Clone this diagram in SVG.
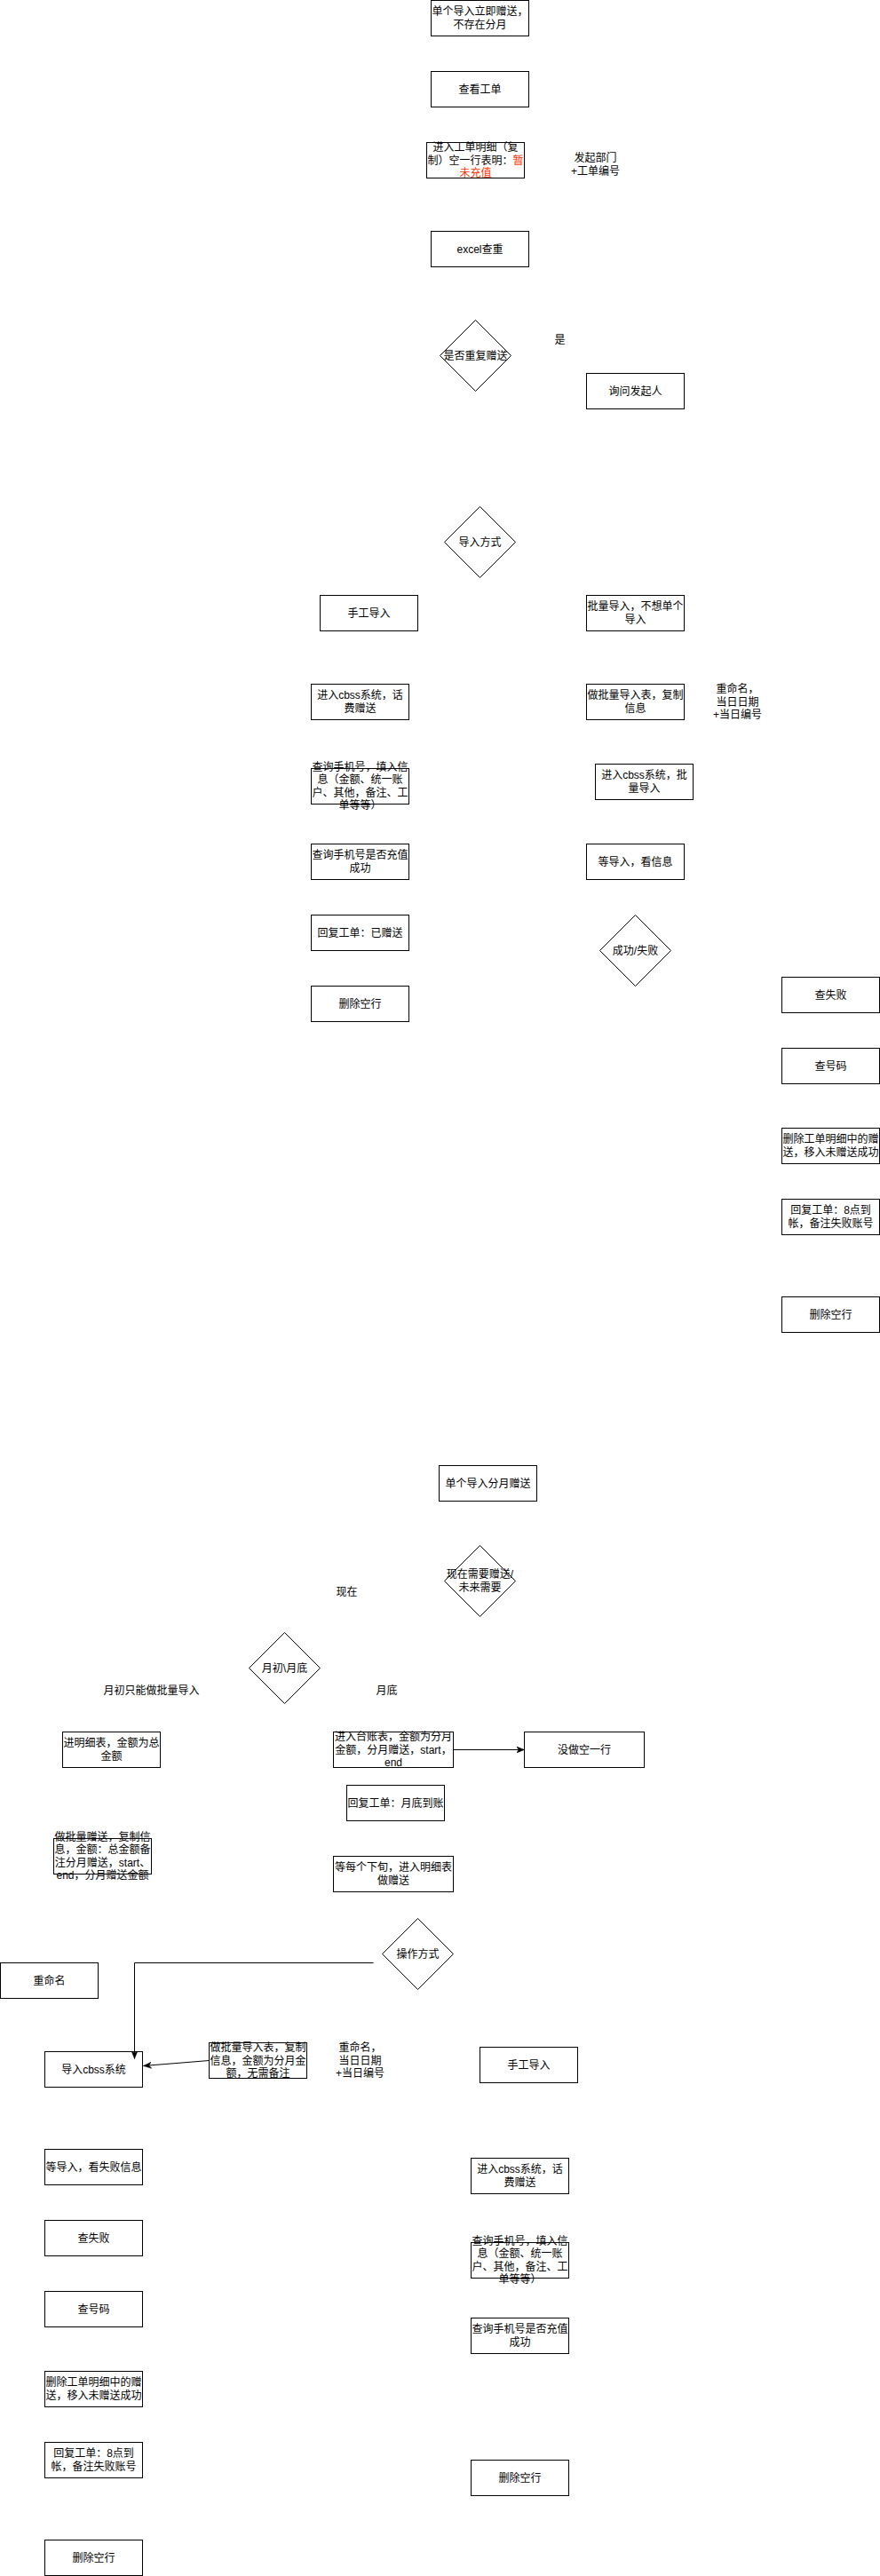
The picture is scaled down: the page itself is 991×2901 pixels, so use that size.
<svg xmlns="http://www.w3.org/2000/svg" width="991" height="2901" viewBox="0 0 991 2901">
<defs>
<style>
.n rect, .n polygon { fill: #ffffff; stroke: #000000; stroke-width: 1; }
text { font-family: "Liberation Sans", "Noto Sans CJK SC", sans-serif; font-size: 12px; text-anchor: middle; fill: #000000; }
.red { fill: #FF3300; }
.e { fill: none; stroke: #000000; stroke-width: 1; }
</style>
<marker id="arr" viewBox="0 0 10 10" refX="10" refY="5" markerWidth="9" markerHeight="9" markerUnits="userSpaceOnUse" orient="auto">
<path d="M0,1 L10,5 L0,9 L3,5 Z" fill="#000000" stroke="#000000" stroke-width="0.5"/>
</marker>
</defs>
<rect x="0" y="0" width="991" height="2901" fill="#ffffff"/>
<g transform="translate(0.5,0.5)">

<g id="n1" class="n"><rect x="485" y="0" width="110" height="40"/><text x="540" y="16.8">单个导入立即赠送，</text><text x="540" y="31.2">不存在分月</text></g>
<g id="n2" class="n"><rect x="485" y="80" width="110" height="40"/><text x="540" y="104">查看工单</text></g>
<g id="n3" class="n"><rect x="480" y="160" width="110" height="40"/><text x="535" y="169.6">进入工单明细（复</text><text x="535" y="184">制）空一行表明：<tspan class="red">暂</tspan></text><text x="535" y="198.4" class="red">未充值</text></g>
<g id="t1"><text x="670" y="181.8">发起部门</text><text x="670" y="196.2">+工单编号</text></g>
<g id="n4" class="n"><rect x="485" y="260" width="110" height="40"/><text x="540" y="284">excel查重</text></g>
<g id="d1" class="n"><polygon points="535,360 575,400 535,440 495,400"/><text x="535" y="404">是否重复赠送</text></g>
<g id="t2"><text x="630" y="386">是</text></g>
<g id="n5" class="n"><rect x="660" y="420" width="110" height="40"/><text x="715" y="444">询问发起人</text></g>
<g id="d2" class="n"><polygon points="540,570 580,610 540,650 500,610"/><text x="540" y="614">导入方式</text></g>
<g id="n6" class="n"><rect x="360" y="670" width="110" height="40"/><text x="415" y="694">手工导入</text></g>
<g id="n7" class="n"><rect x="660" y="670" width="110" height="40"/><text x="715" y="686.8">批量导入，不想单个</text><text x="715" y="701.2">导入</text></g>
<g id="n8" class="n"><rect x="350" y="770" width="110" height="40"/><text x="405" y="786.8">进入cbss系统，话</text><text x="405" y="801.2">费赠送</text></g>
<g id="n9" class="n"><rect x="660" y="770" width="110" height="40"/><text x="715" y="786.8">做批量导入表，复制</text><text x="715" y="801.2">信息</text></g>
<g id="t3"><text x="830" y="779.6">重命名，</text><text x="830" y="794">当日日期</text><text x="830" y="808.4">+当日编号</text></g>
<g id="n10" class="n"><rect x="350" y="865" width="110" height="40"/><text x="405" y="867.4">查询手机号，填入信</text><text x="405" y="881.8">息（金额、统一账</text><text x="405" y="896.2">户、其他，备注、工</text><text x="405" y="910.6">单等等）</text></g>
<g id="n11" class="n"><rect x="670" y="860" width="110" height="40"/><text x="725" y="876.8">进入cbss系统，批</text><text x="725" y="891.2">量导入</text></g>
<g id="n12" class="n"><rect x="350" y="950" width="110" height="40"/><text x="405" y="966.8">查询手机号是否充值</text><text x="405" y="981.2">成功</text></g>
<g id="n13" class="n"><rect x="660" y="950" width="110" height="40"/><text x="715" y="974">等导入，看信息</text></g>
<g id="n14" class="n"><rect x="350" y="1030" width="110" height="40"/><text x="405" y="1054">回复工单：已赠送</text></g>
<g id="d3" class="n"><polygon points="715,1030 755,1070 715,1110 675,1070"/><text x="715" y="1074">成功/失败</text></g>
<g id="n15" class="n"><rect x="350" y="1110" width="110" height="40"/><text x="405" y="1134">删除空行</text></g>
<g id="n16" class="n"><rect x="880" y="1100" width="110" height="40"/><text x="935" y="1124">查失败</text></g>
<g id="n17" class="n"><rect x="880" y="1180" width="110" height="40"/><text x="935" y="1204">查号码</text></g>
<g id="n18" class="n"><rect x="880" y="1270" width="110" height="40"/><text x="935" y="1286.8">删除工单明细中的赠</text><text x="935" y="1301.2">送，移入未赠送成功</text></g>
<g id="n19" class="n"><rect x="880" y="1350" width="110" height="40"/><text x="935" y="1366.8">回复工单：8点到</text><text x="935" y="1381.2">帐，备注失败账号</text></g>
<g id="n20" class="n"><rect x="880" y="1460" width="110" height="40"/><text x="935" y="1484">删除空行</text></g>

<g id="n21" class="n"><rect x="494" y="1650" width="110" height="40"/><text x="549" y="1674">单个导入分月赠送</text></g>
<g id="d4" class="n"><polygon points="540,1740 580,1780 540,1820 500,1780"/><text x="540" y="1776.8">现在需要赠送/</text><text x="540" y="1791.2">未来需要</text></g>
<g id="t4"><text x="390" y="1796">现在</text></g>
<g id="d5" class="n"><polygon points="320,1838 360,1878 320,1918 280,1878"/><text x="320" y="1882">月初\月底</text></g>
<g id="t5"><text x="170" y="1907">月初只能做批量导入</text></g>
<g id="t6"><text x="435" y="1907">月底</text></g>
<g id="n22" class="n"><rect x="70" y="1950" width="110" height="40"/><text x="125" y="1966.8">进明细表，金额为总</text><text x="125" y="1981.2">金额</text></g>
<g id="n23" class="n"><rect x="375" y="1950" width="135" height="40"/><text x="442.5" y="1959.6">进入台账表，金额为分月</text><text x="442.5" y="1974">金额，分月赠送，start，</text><text x="442.5" y="1988.4">end</text></g>
<g id="n24" class="n"><rect x="590" y="1950" width="135" height="40"/><text x="657.5" y="1974">没做空一行</text></g>
<g id="n25" class="n"><rect x="390" y="2010" width="110" height="40"/><text x="445" y="2034">回复工单：月底到账</text></g>
<g id="n26" class="n"><rect x="60" y="2070" width="110" height="40"/><text x="115" y="2072.4">做批量赠送，复制信</text><text x="115" y="2086.8">息，金额：总金额备</text><text x="115" y="2101.2">注分月赠送，start、</text><text x="115" y="2115.6">end，分月赠送金额</text></g>
<g id="n27" class="n"><rect x="375" y="2090" width="135" height="40"/><text x="442.5" y="2106.8">等每个下旬，进入明细表</text><text x="442.5" y="2121.2">做赠送</text></g>
<g id="d6" class="n"><polygon points="470,2160 510,2200 470,2240 430,2200"/><text x="470" y="2204">操作方式</text></g>
<g id="n28" class="n"><rect x="0" y="2210" width="110" height="40"/><text x="55" y="2234">重命名</text></g>
<g id="n29" class="n"><rect x="50" y="2310" width="110" height="40"/><text x="105" y="2334">导入cbss系统</text></g>
<g id="n30" class="n"><rect x="235" y="2300" width="110" height="40"/><text x="290" y="2309.6">做批量导入表，复制</text><text x="290" y="2324">信息，金额为分月金</text><text x="290" y="2338.4">额，无需备注</text></g>
<g id="t7"><text x="405" y="2309.6">重命名，</text><text x="405" y="2324">当日日期</text><text x="405" y="2338.4">+当日编号</text></g>
<g id="n31" class="n"><rect x="540" y="2305" width="110" height="40"/><text x="595" y="2329">手工导入</text></g>
<g id="n32" class="n"><rect x="50" y="2420" width="110" height="40"/><text x="105" y="2444">等导入，看失败信息</text></g>
<g id="n33" class="n"><rect x="50" y="2500" width="110" height="40"/><text x="105" y="2524">查失败</text></g>
<g id="n34" class="n"><rect x="50" y="2580" width="110" height="40"/><text x="105" y="2604">查号码</text></g>
<g id="n35" class="n"><rect x="50" y="2670" width="110" height="40"/><text x="105" y="2686.8">删除工单明细中的赠</text><text x="105" y="2701.2">送，移入未赠送成功</text></g>
<g id="n36" class="n"><rect x="50" y="2750" width="110" height="40"/><text x="105" y="2766.8">回复工单：8点到</text><text x="105" y="2781.2">帐，备注失败账号</text></g>
<g id="n37" class="n"><rect x="50" y="2860" width="110" height="40"/><text x="105" y="2884">删除空行</text></g>
<g id="n38" class="n"><rect x="530" y="2430" width="110" height="40"/><text x="585" y="2446.8">进入cbss系统，话</text><text x="585" y="2461.2">费赠送</text></g>
<g id="n39" class="n"><rect x="530" y="2525" width="110" height="40"/><text x="585" y="2527.4">查询手机号，填入信</text><text x="585" y="2541.8">息（金额、统一账</text><text x="585" y="2556.2">户、其他，备注、工</text><text x="585" y="2570.6">单等等）</text></g>
<g id="n40" class="n"><rect x="530" y="2610" width="110" height="40"/><text x="585" y="2626.8">查询手机号是否充值</text><text x="585" y="2641.2">成功</text></g>
<g id="n41" class="n"><rect x="530" y="2770" width="110" height="40"/><text x="585" y="2794">删除空行</text></g>

<g id="connectors">
<path class="e" d="M510 1970 L590 1970" marker-end="url(#arr)"/>
<path class="e" d="M420 2210 L151 2210 L151 2318" marker-end="url(#arr)"/>
<path class="e" d="M235 2320 L161 2326" marker-end="url(#arr)"/>
</g>
</g>
</svg>
